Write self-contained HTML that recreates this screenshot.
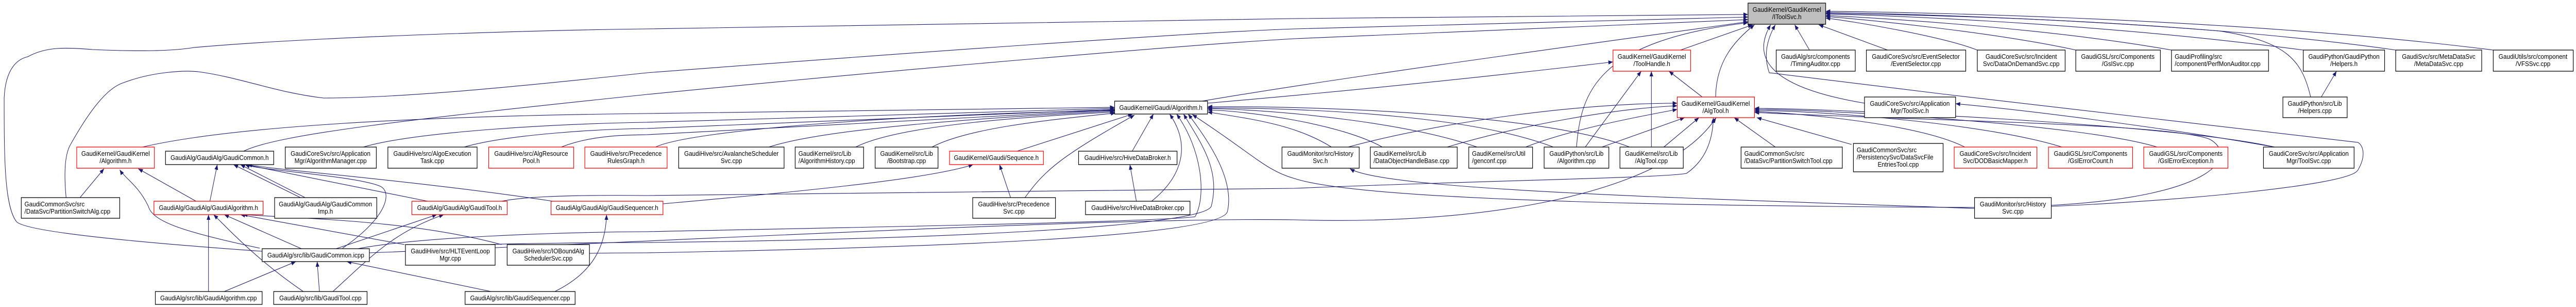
<!DOCTYPE html>
<html><head><meta charset="utf-8"><style>
html,body{margin:0;padding:0;background:#fff;width:100%;height:100%;overflow:hidden;}
svg{display:block;width:100vw;height:100vh;}
text{font-family:"Liberation Sans",Arial,sans-serif;font-size:13px;fill:#000;}
.e{fill:none;stroke:#191970;stroke-width:1.1;marker-end:url(#a);}
.n{fill:#fff;stroke:#000;stroke-width:1.3;}
.r{fill:#fff;stroke:#ff0000;stroke-width:1.3;}
.g{fill:#bfbfbf;stroke:#000;stroke-width:1.3;}
.c{text-anchor:middle;}
</style></head><body>
<svg viewBox="0 0 5572 595" preserveAspectRatio="none" xmlns="http://www.w3.org/2000/svg">
<defs><marker id="a" markerUnits="userSpaceOnUse" markerWidth="10" markerHeight="8" refX="10" refY="4" orient="auto"><path d="M0,0 L10,4 L0,8 z" fill="#191970"/></marker></defs>
<g>
<path class="e" d="M567,487 C300,470 60,450 36,430 C9,400 9,300 9,190 C12,130 40,114 60,110 C100,90 143,92 200,96 C300,100 375,99 420,92 C700,70 1200,58 1400,56 L2800,36 C3300,32 3600,30 3781,28"/>
<path class="e" d="M143,383 C138,335 140,300 152,281 C190,220 230,170 268,160 C330,139 400,136 429,139 C520,150 600,180 700,190 C893,190 1200,160 1400,141 C2000,100 2600,62 2800,56 C3300,45 3600,36 3781,33"/>
<path class="e" d="M527,293 C600,260 900,230 1400,183 C2000,130 2600,85 2800,75 C3300,55 3600,42 3781,38"/>
<path class="e" d="M308,285 C500,245 900,225 1400,220 L2411,208"/>
<path class="e" d="M786,285 C900,255 1200,240 1400,237 C1800,228 2200,215 2411,210"/>
<path class="e" d="M1004,285 C1100,260 1300,250 1400,249 C1800,235 2200,218 2411,212"/>
<path class="e" d="M1214,285 C1280,262 1350,262 1400,261 C1800,245 2200,220 2411,213"/>
<path class="e" d="M1418,285 C1500,250 2000,220 2411,214"/>
<path class="e" d="M1663,285 C1800,245 2200,225 2411,215"/>
<path class="e" d="M1851,285 C1950,240 2250,225 2411,217"/>
<path class="e" d="M2016,285 C2100,245 2300,230 2413,219"/>
<path class="e" d="M2200,293 L2450,221"/>
<path class="e" d="M2217,383 C2260,330 2293,304 2454,223"/>
<path class="e" d="M2449,293 L2495,221"/>
<path class="e" d="M2458,390 L2444,319"/>
<path class="e" d="M2491,390 C2560,340 2575,280 2530,221"/>
<path class="e" d="M1434,395 C1668,376 2000,350 2105,319"/>
<path class="e" d="M2186,383 L2162,319"/>
<path class="e" d="M774,482 C900,460 1200,450 1400,449 C1900,440 2500,430 2585,420 C2610,380 2600,290 2545,221"/>
<path class="e" d="M1275,491 C1330,490 1380,490 1400,490 C2000,480 2640,460 2655,410 C2670,350 2620,280 2570,221"/>
<path class="e" d="M1060,474 C1100,472 1300,470 1400,470 C2000,465 2600,440 2620,400 C2640,330 2600,280 2560,221"/>
<path class="e" d="M2880,285 C2800,240 2700,230 2612,217"/>
<path class="e" d="M2990,285 C2900,240 2700,215 2612,213"/>
<path class="e" d="M3195,285 C3050,240 2800,215 2612,210"/>
<path class="e" d="M3360,285 C3200,230 2900,210 2612,209"/>
<path class="e" d="M3525,285 C3350,225 2900,205 2612,207"/>
<path class="e" d="M4271,402 C3700,400 2950,390 2800,346 C2739,331 2712,300 2579,222"/>
<path class="e" d="M4271,404 C3700,385 3000,370 2920,327"/>
<path class="e" d="M2600,196 C2900,150 3400,90 3781,42"/>
<path class="e" d="M2612,200 C3000,170 3300,140 3489,120"/>
<path class="e" d="M3635,97 L3791,48"/>
<path class="e" d="M3682,188 L3610,138"/>
<path class="e" d="M3429,285 L3550,138"/>
<path class="e" d="M3572,285 L3572,138"/>
<path class="e" d="M3711,188 C3712,120 3750,80 3795,48"/>
<path class="e" d="M3410,285 C3420,180 3450,80 3781,44"/>
<path class="e" d="M3914,97 L3882,48"/>
<path class="e" d="M4083,97 L3934,48"/>
<path class="e" d="M4033,200 C3900,180 3770,140 3830,48"/>
<path class="e" d="M4437,400 C4700,390 5080,360 5100,330 C5120,300 5110,280 5100,276 L4200,182 L3827,141 C3815,110 3820,80 3840,48"/>
<path class="e" d="M4277,97 C4200,70 4000,40 3949,35"/>
<path class="e" d="M4490,97 C4300,60 4000,35 3949,32"/>
<path class="e" d="M4697,97 C4400,50 4000,32 3949,30"/>
<path class="e" d="M4982,97 C4500,40 4000,28 3949,27"/>
<path class="e" d="M4998,188 C4980,120 4950,80 4800,60 C4400,30 4000,27 3949,26"/>
<path class="e" d="M5182,97 C4700,35 4000,25 3949,24"/>
<path class="e" d="M5393,97 C4800,30 4000,22 3949,22"/>
<path class="e" d="M5021,188 L5054,138"/>
<path class="e" d="M2916,285 C3100,240 3400,200 3628,200"/>
<path class="e" d="M3130,285 C3300,240 3500,210 3628,205"/>
<path class="e" d="M3300,285 C3400,250 3550,225 3628,212"/>
<path class="e" d="M3465,285 L3644,228"/>
<path class="e" d="M3599,285 L3675,228"/>
<path class="e" d="M3840,285 L3751,228"/>
<path class="e" d="M4005,280 L3800,228"/>
<path class="e" d="M4250,285 C4150,240 3900,220 3795,216"/>
<path class="e" d="M4460,285 C4300,240 3950,215 3795,214"/>
<path class="e" d="M4666,285 C4500,240 3950,212 3795,212"/>
<path class="e" d="M4920,285 C4700,240 3950,210 3795,210"/>
<path class="e" d="M4920,285 C4700,250 4400,215 4230,201"/>
<path class="e" d="M4437,398 C4800,380 4840,300 4780,270 C4700,240 4200,235 3795,218"/>
<path class="e" d="M1085,390 C1150,378 1300,378 1400,379 L2800,365 C3200,350 3600,345 3648,336 C3690,310 3705,270 3706,228"/>
<path class="e" d="M799,490 C1400,470 2400,420 2800,426 C3193,437 3600,380 3712,228"/>
<path class="e" d="M424,390 L299,327"/>
<path class="e" d="M173,383 L225,327"/>
<path class="e" d="M562,481 C400,450 330,430 321,400 C300,360 270,345 259,329"/>
<path class="e" d="M454,390 L470,319"/>
<path class="e" d="M650,383 L505,319"/>
<path class="e" d="M660,383 L520,319"/>
<path class="e" d="M741,481 C840,420 850,370 820,360 C760,340 560,330 530,319"/>
<path class="e" d="M925,390 L530,319"/>
<path class="e" d="M1196,390 C900,350 600,330 535,319"/>
<path class="e" d="M451,565 L451,416"/>
<path class="e" d="M656,565 C550,500 490,440 462,416"/>
<path class="e" d="M652,482 L485,416"/>
<path class="e" d="M875,474 L520,416"/>
<path class="e" d="M1085,474 C900,430 700,425 525,416"/>
<path class="e" d="M727,482 L945,416"/>
<path class="e" d="M720,565 C800,500 850,450 960,416"/>
<path class="e" d="M485,565 L640,507"/>
<path class="e" d="M691,565 L686,507"/>
<path class="e" d="M1062,565 L750,507"/>
<path class="e" d="M1200,565 C1280,530 1310,480 1312,416"/>
</g>
<g>
<rect class="g" x="3781" y="6" width="168" height="41"/><text class="c" x="3865" y="23">GaudiKernel/GaudiKernel</text><text class="c" x="3865" y="37">/IToolSvc.h</text>

<rect class="r" x="3489" y="97" width="168" height="41"/><text class="c" x="3573" y="114">GaudiKernel/GaudiKernel</text><text class="c" x="3573" y="128">/ToolHandle.h</text>
<rect class="n" x="3842" y="97" width="171" height="41"/><text class="c" x="3927" y="114">GaudiAlg/src/components</text><text class="c" x="3927" y="128">/TimingAuditor.cpp</text>
<rect class="n" x="4037" y="97" width="215" height="41"/><text class="c" x="4144" y="114">GaudiCoreSvc/src/EventSelector</text><text class="c" x="4144" y="128">/EventSelector.cpp</text>
<rect class="n" x="4277" y="97" width="190" height="41"/><text class="c" x="4372" y="114">GaudiCoreSvc/src/Incident</text><text class="c" x="4372" y="128">Svc/DataOnDemandSvc.cpp</text>
<rect class="n" x="4490" y="97" width="183" height="41"/><text class="c" x="4581" y="114">GaudiGSL/src/Components</text><text class="c" x="4581" y="128">/GslSvc.cpp</text>
<rect class="n" x="4697" y="97" width="210" height="41"/><text x="4704" y="114">GaudiProfiling/src</text><text x="4704" y="128">/component/PerfMonAuditor.cpp</text>
<rect class="n" x="4982" y="97" width="176" height="41"/><text class="c" x="5070" y="114">GaudiPython/GaudiPython</text><text class="c" x="5070" y="128">/Helpers.h</text>
<rect class="n" x="5182" y="97" width="186" height="41"/><text class="c" x="5275" y="114">GaudiSvc/src/MetaDataSvc</text><text class="c" x="5275" y="128">/MetaDataSvc.cpp</text>
<rect class="n" x="5393" y="97" width="173" height="41"/><text class="c" x="5479" y="114">GaudiUtils/src/component</text><text class="c" x="5479" y="128">/VFSSvc.cpp</text>

<rect class="n" x="2411" y="196" width="201" height="25"/><text class="c" x="2511" y="213">GaudiKernel/Gaudi/Algorithm.h</text>
<rect class="r" x="3628" y="188" width="167" height="40"/><text class="c" x="3711" y="205">GaudiKernel/GaudiKernel</text><text class="c" x="3711" y="219">/AlgTool.h</text>
<rect class="n" x="4033" y="188" width="197" height="40"/><text class="c" x="4131" y="205">GaudiCoreSvc/src/Application</text><text class="c" x="4131" y="219">Mgr/ToolSvc.h</text>
<rect class="n" x="4938" y="188" width="139" height="40"/><text class="c" x="5007" y="205">GaudiPython/src/Lib</text><text class="c" x="5007" y="219">/Helpers.cpp</text>

<rect class="r" x="166" y="285" width="168" height="41"/><text class="c" x="250" y="302">GaudiKernel/GaudiKernel</text><text class="c" x="250" y="316">/Algorithm.h</text>
<rect class="n" x="358" y="293" width="234" height="26"/><text class="c" x="475" y="310">GaudiAlg/GaudiAlg/GaudiCommon.h</text>
<rect class="n" x="617" y="285" width="197" height="41"/><text class="c" x="715" y="302">GaudiCoreSvc/src/Application</text><text class="c" x="715" y="316">Mgr/AlgorithmManager.cpp</text>
<rect class="n" x="839" y="285" width="193" height="41"/><text class="c" x="935" y="302">GaudiHive/src/AlgoExecution</text><text class="c" x="935" y="316">Task.cpp</text>
<rect class="r" x="1057" y="285" width="184" height="41"/><text class="c" x="1149" y="302">GaudiHive/src/AlgResource</text><text class="c" x="1149" y="316">Pool.h</text>
<rect class="r" x="1265" y="285" width="178" height="41"/><text class="c" x="1354" y="302">GaudiHive/src/Precedence</text><text class="c" x="1354" y="316">RulesGraph.h</text>
<rect class="n" x="1468" y="285" width="228" height="41"/><text class="c" x="1582" y="302">GaudiHive/src/AvalancheScheduler</text><text class="c" x="1582" y="316">Svc.cpp</text>
<rect class="n" x="1720" y="285" width="148" height="41"/><text x="1727" y="302">GaudiKernel/src/Lib</text><text x="1727" y="316">/AlgorithmHistory.cpp</text>
<rect class="n" x="1893" y="285" width="136" height="41"/><text class="c" x="1961" y="302">GaudiKernel/src/Lib</text><text class="c" x="1961" y="316">/Bootstrap.cpp</text>
<rect class="r" x="2054" y="293" width="203" height="26"/><text class="c" x="2155" y="310">GaudiKernel/Gaudi/Sequence.h</text>
<rect class="n" x="2333" y="293" width="213" height="26"/><text class="c" x="2439" y="310">GaudiHive/src/HiveDataBroker.h</text>
<rect class="n" x="2773" y="285" width="167" height="41"/><text class="c" x="2856" y="302">GaudiMonitor/src/History</text><text class="c" x="2856" y="316">Svc.h</text>
<rect class="n" x="2964" y="285" width="188" height="41"/><text x="2971" y="302">GaudiKernel/src/Lib</text><text x="2971" y="316">/DataObjectHandleBase.cpp</text>
<rect class="n" x="3177" y="285" width="138" height="41"/><text x="3184" y="302">GaudiKernel/src/Util</text><text x="3184" y="316">/genconf.cpp</text>
<rect class="n" x="3340" y="285" width="140" height="41"/><text class="c" x="3410" y="302">GaudiPython/src/Lib</text><text class="c" x="3410" y="316">/Algorithm.cpp</text>
<rect class="n" x="3504" y="285" width="137" height="41"/><text class="c" x="3572" y="302">GaudiKernel/src/Lib</text><text class="c" x="3572" y="316">/AlgTool.cpp</text>
<rect class="n" x="3766" y="285" width="219" height="41"/><text x="3773" y="302">GaudiCommonSvc/src</text><text x="3773" y="316">/DataSvc/PartitionSwitchTool.cpp</text>
<rect class="n" x="4009" y="278" width="194" height="55"/><text x="4016" y="295">GaudiCommonSvc/src</text><text x="4016" y="309">/PersistencySvc/DataSvcFile</text><text class="c" x="4106" y="323">EntriesTool.cpp</text>
<rect class="r" x="4227" y="285" width="179" height="41"/><text class="c" x="4316" y="302">GaudiCoreSvc/src/Incident</text><text class="c" x="4316" y="316">Svc/DODBasicMapper.h</text>
<rect class="r" x="4431" y="285" width="182" height="41"/><text class="c" x="4522" y="302">GaudiGSL/src/Components</text><text class="c" x="4522" y="316">/GslErrorCount.h</text>
<rect class="r" x="4637" y="285" width="182" height="41"/><text class="c" x="4728" y="302">GaudiGSL/src/Components</text><text class="c" x="4728" y="316">/GslErrorException.h</text>
<rect class="n" x="4896" y="285" width="196" height="41"/><text class="c" x="4994" y="302">GaudiCoreSvc/src/Application</text><text class="c" x="4994" y="316">Mgr/ToolSvc.cpp</text>

<rect class="n" x="46" y="383" width="213" height="40"/><text x="53" y="400">GaudiCommonSvc/src</text><text x="53" y="414">/DataSvc/PartitionSwitchAlg.cpp</text>
<rect class="r" x="333" y="390" width="236" height="26"/><text class="c" x="451" y="407">GaudiAlg/GaudiAlg/GaudiAlgorithm.h</text>
<rect class="n" x="594" y="383" width="221" height="40"/><text class="c" x="704" y="400">GaudiAlg/GaudiAlg/GaudiCommon</text><text class="c" x="704" y="414">Imp.h</text>
<rect class="r" x="891" y="390" width="206" height="26"/><text class="c" x="994" y="407">GaudiAlg/GaudiAlg/GaudiTool.h</text>
<rect class="r" x="1192" y="390" width="242" height="26"/><text class="c" x="1313" y="407">GaudiAlg/GaudiAlg/GaudiSequencer.h</text>
<rect class="n" x="2104" y="383" width="179" height="40"/><text class="c" x="2193" y="400">GaudiHive/src/Precedence</text><text class="c" x="2193" y="414">Svc.cpp</text>
<rect class="n" x="2348" y="390" width="226" height="26"/><text class="c" x="2461" y="407">GaudiHive/src/HiveDataBroker.cpp</text>
<rect class="n" x="4271" y="383" width="166" height="40"/><text class="c" x="4354" y="400">GaudiMonitor/src/History</text><text class="c" x="4354" y="414">Svc.cpp</text>

<rect class="n" x="567" y="482" width="232" height="25"/><text class="c" x="683" y="499">GaudiAlg/src/lib/GaudiCommon.icpp</text>
<rect class="n" x="877" y="474" width="194" height="40"/><text class="c" x="974" y="491">GaudiHive/src/HLTEventLoop</text><text class="c" x="974" y="505">Mgr.cpp</text>
<rect class="n" x="1097" y="474" width="178" height="40"/><text class="c" x="1186" y="491">GaudiHive/src/IOBoundAlg</text><text class="c" x="1186" y="505">SchedulerSvc.cpp</text>

<rect class="n" x="336" y="565" width="231" height="25"/><text class="c" x="451" y="582">GaudiAlg/src/lib/GaudiAlgorithm.cpp</text>
<rect class="n" x="592" y="565" width="202" height="25"/><text class="c" x="693" y="582">GaudiAlg/src/lib/GaudiTool.cpp</text>
<rect class="n" x="1006" y="565" width="238" height="25"/><text class="c" x="1125" y="582">GaudiAlg/src/lib/GaudiSequencer.cpp</text>
</g>
</svg>
</body></html>
